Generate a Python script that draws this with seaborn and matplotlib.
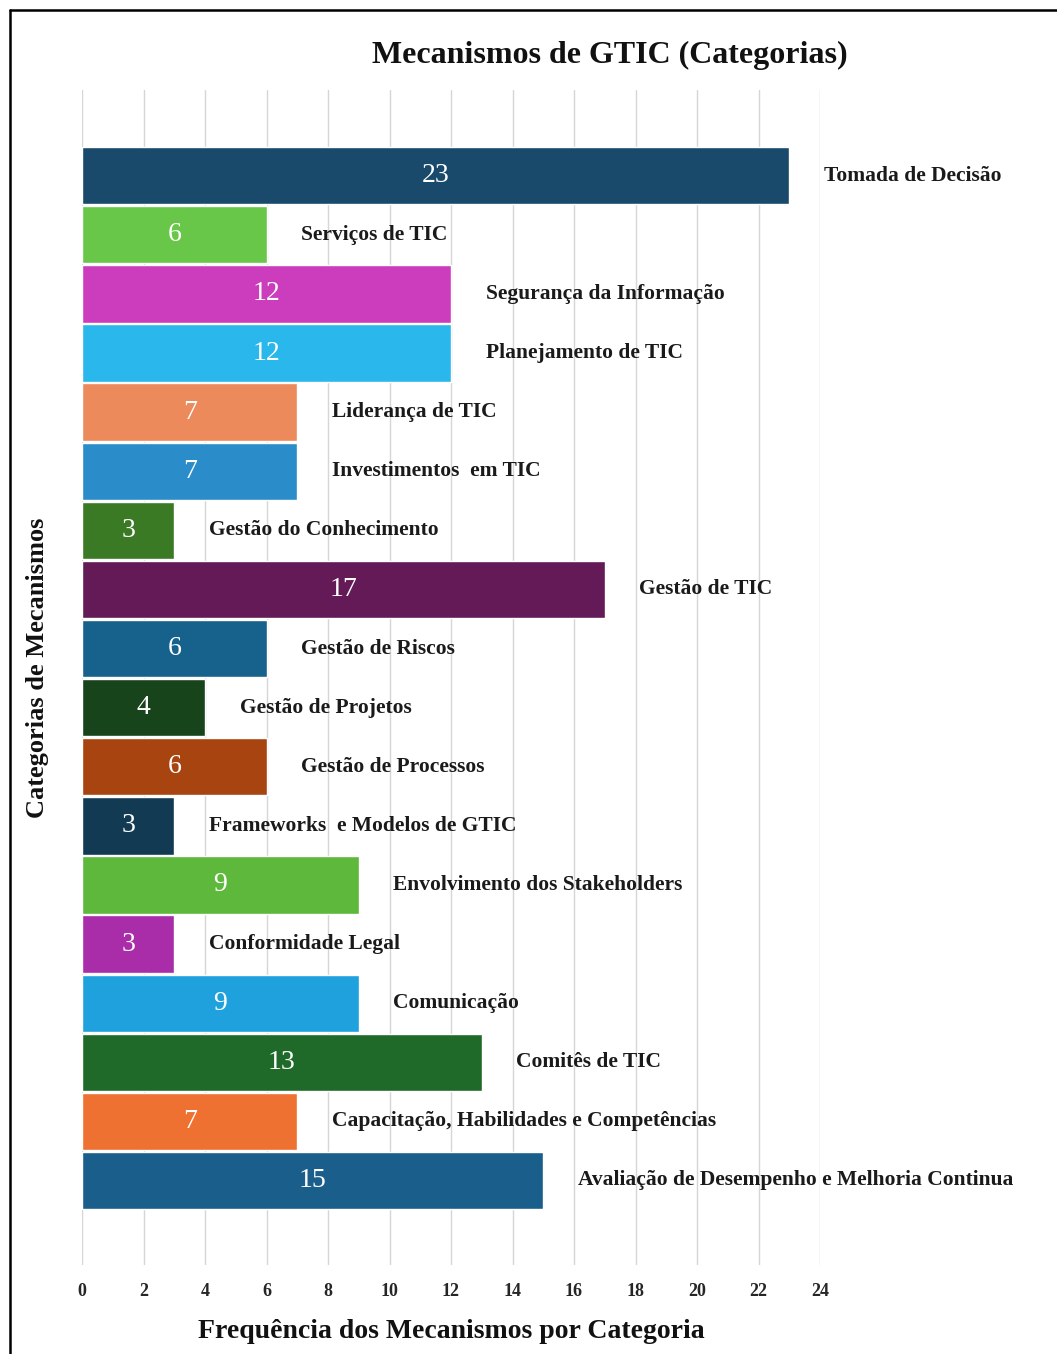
import matplotlib
matplotlib.use("Agg")
import matplotlib.pyplot as plt
from matplotlib.lines import Line2D
import seaborn as sns
import pandas as pd

categories = [
    "Tomada de Decisão", "Serviços de TIC", "Segurança da Informação",
    "Planejamento de TIC", "Liderança de TIC", "Investimentos  em TIC",
    "Gestão do Conhecimento", "Gestão de TIC", "Gestão de Riscos",
    "Gestão de Projetos", "Gestão de Processos", "Frameworks  e Modelos de GTIC",
    "Envolvimento dos Stakeholders", "Conformidade Legal", "Comunicação",
    "Comitês de TIC", "Capacitação, Habilidades e Competências",
    "Avaliação de Desempenho e Melhoria Continua",
]
values = [23, 6, 12, 12, 7, 7, 3, 17, 6, 4, 6, 3, 9, 3, 9, 13, 7, 15]
colors = [
    "#194a6b", "#68c748", "#cc3dbd", "#2ab7ec", "#ec8a5b", "#2a8cc9",
    "#3a7a25", "#631a57", "#16628c", "#17441b", "#a8440f", "#123a53",
    "#5eb83b", "#a92ca9", "#1ea1dd", "#1f6a29", "#ee7131", "#1a5f8b",
]
xticks = [0, 2, 4, 6, 8, 10, 12, 14, 16, 18, 20, 22, 24]

df = pd.DataFrame({"cat": categories, "val": values})

sns.set_theme(style="white")
plt.rcParams["font.family"] = ["Liberation Serif", "DejaVu Serif"]

fig = plt.figure(figsize=(10.57, 13.54), dpi=100)
ax = fig.add_axes([82 / 1057, 1 - 1265 / 1354, (820 - 82) / 1057, (1265 - 90) / 1354])

sns.barplot(data=df, x="val", y="cat", hue="cat", palette=colors, order=categories,
            hue_order=categories, legend=False, width=0.97, saturation=1, ax=ax, zorder=2)

ax.set_xlim(0, 24)
ax.set_ylim(18.43, -1.45)
ax.set_xticks(xticks)
ax.set_xticklabels([str(t) for t in xticks], fontsize=13, fontweight="bold")
ax.tick_params(axis="x", length=0, pad=13)
ax.set_yticks([])
ax.grid(axis="x", color="#d6d6d6", linewidth=1.0, zorder=0)
ax.set_axisbelow(True)
for s in ax.spines.values():
    s.set_visible(False)

for cont in ax.containers:
    ax.bar_label(cont, label_type="center", color="white", fontsize=20)

for i, (c, v) in enumerate(zip(categories, values)):
    ax.annotate(c, xy=(v, i), xytext=(25, 0), textcoords="offset points",
                va="center", ha="left", fontsize=15.5, fontweight="bold",
                color="#1a1a1a", annotation_clip=False)

ax.set_xlabel("Frequência dos Mecanismos por Categoria", fontsize=20,
              fontweight="bold", labelpad=14, color="#111111")
ax.set_ylabel("")
fig.text(38 / 1057, 1 - 668 / 1354, "Categorias de Mecanismos", rotation=90,
         ha="center", va="center", fontsize=19, fontweight="bold", color="#111111")
fig.text(610 / 1057, 1 - 55 / 1354, "Mecanismos de GTIC (Categorias)", ha="center",
         va="center", fontsize=23, fontweight="bold", color="#111111")

# frame
fig.add_artist(Line2D([10 / 1057, 10 / 1057], [0, 1 - 10 / 1354], color="black",
                      linewidth=1.8, transform=fig.transFigure))
fig.add_artist(Line2D([10 / 1057, 1], [1 - 10 / 1354, 1 - 10 / 1354], color="black",
                      linewidth=1.8, transform=fig.transFigure))

fig.savefig("out.png", dpi=100, facecolor="white")
